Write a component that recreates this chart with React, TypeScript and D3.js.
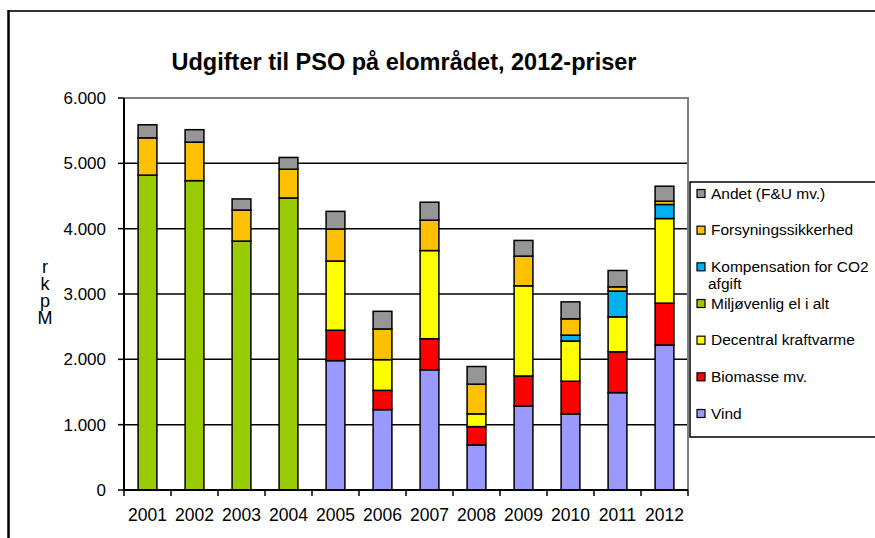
import React, { useEffect, useRef } from 'react'
import * as d3 from 'd3'

const years = ['2001', '2002', '2003', '2004', '2005', '2006', '2007', '2008', '2009', '2010', '2011', '2012']

// Mio. kr., 2012-priser
const vind = [0, 0, 0, 0, 1980, 1230, 1840, 690, 1285, 1165, 1490, 2220]
const biomasse = [0, 0, 0, 0, 465, 295, 475, 280, 460, 500, 625, 640]
const decentral = [0, 0, 0, 0, 1060, 470, 1350, 195, 1380, 615, 535, 1295]
const miljoevenlig = [4820, 4735, 3810, 4470, 0, 0, 0, 0, 0, 0, 0, 0]
const kompensation = [0, 0, 0, 0, 0, 0, 0, 0, 0, 90, 395, 215]
const forsyning = [570, 590, 475, 440, 490, 470, 465, 455, 455, 250, 65, 50]
const andet = [200, 190, 170, 180, 270, 270, 275, 270, 240, 260, 250, 230]

const yTicks = [0, 1000, 2000, 3000, 4000, 5000, 6000]

const seriesKeys = ['vind', 'biomasse', 'decentral', 'miljoevenlig', 'kompensation', 'forsyning', 'andet']
const seriesValues: { [k: string]: number[] } = { vind, biomasse, decentral, miljoevenlig, kompensation, forsyning, andet }
const seriesNames: { [k: string]: string[] } = {
  vind: ['Vind'],
  biomasse: ['Biomasse mv.'],
  decentral: ['Decentral kraftvarme'],
  miljoevenlig: ['Miljøvenlig el i alt'],
  kompensation: ['Kompensation for CO2', 'afgift'],
  forsyning: ['Forsyningssikkerhed'],
  andet: ['Andet (F&U mv.)'],
}
const colors: { [k: string]: string } = {
  vind: '#9999FF',
  biomasse: '#FF0000',
  decentral: '#FFFF00',
  miljoevenlig: '#99CC00',
  kompensation: '#00B0F0',
  forsyning: '#FFC000',
  andet: '#969696',
}

const FONT = '"Liberation Sans", Arial, sans-serif'

function Chart() {
  const ref = useRef<SVGSVGElement>(null)

  useEffect(() => {
    const svg = d3.select(ref.current)
    svg.selectAll('*').remove()

    const left = 124, right = 688, top = 98, bottom = 490

    const x = d3.scaleBand<string>()
      .domain(years)
      .range([left, right])
      .paddingInner(0.6)
      .paddingOuter(0.3)
    const step = x.step()

    const y = d3.scaleLinear().domain([0, 6000]).range([bottom, top])

    // ydre ramme
    svg.append('line').attr('x1', 8).attr('x2', 880).attr('y1', 11).attr('y2', 11)
      .style('stroke', '#333').style('stroke-width', 2)
    svg.append('line').attr('x1', 8.5).attr('x2', 8.5).attr('y1', 10).attr('y2', 545)
      .style('stroke', '#000').style('stroke-width', 2.5)

    // titel
    svg.append('text')
      .attr('x', 404).attr('y', 70)
      .attr('text-anchor', 'middle')
      .style('font-family', FONT).style('font-weight', 'bold').style('font-size', '23.5px')
      .text('Udgifter til PSO på elområdet, 2012-priser')

    // gitterlinjer
    svg.append('g').selectAll('line')
      .data(yTicks.filter(d => d > 0 && d < 6000))
      .enter().append('line')
      .attr('x1', left).attr('x2', right)
      .attr('y1', d => y(d)).attr('y2', d => y(d))
      .style('stroke', '#000').style('stroke-width', 1.5)

    // plotområdets kant (top og højre)
    svg.append('path')
      .attr('d', `M${left},${y(6000)}H${right}V${bottom}`)
      .style('fill', 'none').style('stroke', '#808080').style('stroke-width', 2)

    // stablede søjler
    const table = years.map((yr, i) => {
      const row: { [k: string]: number | string } = { year: yr }
      seriesKeys.forEach(k => { row[k] = seriesValues[k][i] })
      return row
    })
    const stacked = d3.stack<any>().keys(seriesKeys)(table)

    stacked.forEach(layer => {
      svg.append('g').selectAll('rect')
        .data(layer.filter(d => d[1] - d[0] > 0))
        .enter().append('rect')
        .attr('x', d => x(d.data.year as string) as number)
        .attr('width', x.bandwidth())
        .attr('y', d => y(d[1]))
        .attr('height', d => y(d[0]) - y(d[1]))
        .style('fill', colors[layer.key])
        .style('stroke', '#000')
        .style('stroke-width', 1.5)
    })

    // y-akse
    const yAxis = svg.append('g')
    yAxis.append('line').attr('x1', left).attr('x2', left).attr('y1', top).attr('y2', bottom + 1)
      .style('stroke', '#000').style('stroke-width', 2)
    yAxis.selectAll('line.tick')
      .data(yTicks)
      .enter().append('line')
      .attr('class', 'tick')
      .attr('x1', left - 6).attr('x2', left)
      .attr('y1', d => y(d)).attr('y2', d => y(d))
      .style('stroke', '#000').style('stroke-width', 1.5)
    yAxis.selectAll('text')
      .data(yTicks)
      .enter().append('text')
      .attr('x', 106).attr('y', d => y(d) + 6)
      .attr('text-anchor', 'end')
      .style('font-family', FONT).style('font-size', '17px')
      .text(d => d3.format(',')(d).replace(/,/g, '.'))

    // x-akse
    const xAxis = svg.append('g')
    xAxis.append('line').attr('x1', left).attr('x2', right).attr('y1', bottom).attr('y2', bottom)
      .style('stroke', '#000').style('stroke-width', 2)
    xAxis.selectAll('line.tick')
      .data(d3.range(years.length + 1))
      .enter().append('line')
      .attr('class', 'tick')
      .attr('x1', i => left + i * step).attr('x2', i => left + i * step)
      .attr('y1', bottom).attr('y2', bottom + 6)
      .style('stroke', '#000').style('stroke-width', 1.5)
    xAxis.selectAll('text')
      .data(years)
      .enter().append('text')
      .attr('x', d => (x(d) as number) + x.bandwidth() / 2)
      .attr('y', 521)
      .attr('text-anchor', 'middle')
      .style('font-family', FONT).style('font-size', '17.5px')
      .text(d => d)

    // y-aksetitel: lodret tekst med oprette bogstaver
    svg.append('text')
      .attr('x', 45).attr('y', 257)
      .style('font-family', FONT).style('font-size', '18px')
      .style('writing-mode', 'vertical-rl')
      .style('text-orientation', 'upright')
      .style('letter-spacing', '-3px')
      .text('rkpM')

    // legende
    const legend = svg.append('g')
    legend.append('rect')
      .attr('x', 690).attr('y', 182).attr('width', 200).attr('height', 255)
      .style('fill', '#fff').style('stroke', '#000').style('stroke-width', 1.5)

    const order = seriesKeys.slice().reverse()
    const ly = d3.scalePoint<string>().domain(order).range([193.5, 413.5])
    order.forEach(k => {
      const cy = ly(k) as number
      legend.append('rect')
        .attr('x', 697).attr('y', cy - 4).attr('width', 8).attr('height', 8)
        .style('fill', colors[k]).style('stroke', '#000').style('stroke-width', 1.2)
      seriesNames[k].forEach((line, j) => {
        legend.append('text')
          .attr('x', j === 0 ? 711 : 708).attr('y', cy + 5 + j * 17.5)
          .style('font-family', FONT).style('font-size', '15.5px')
          .text(line)
      })
    })
  }, [])

  return <svg ref={ref} width={875} height={538} style={{ position: 'absolute', left: 0, top: 0 }} />
}

export default function App() {
  return <Chart />
}
